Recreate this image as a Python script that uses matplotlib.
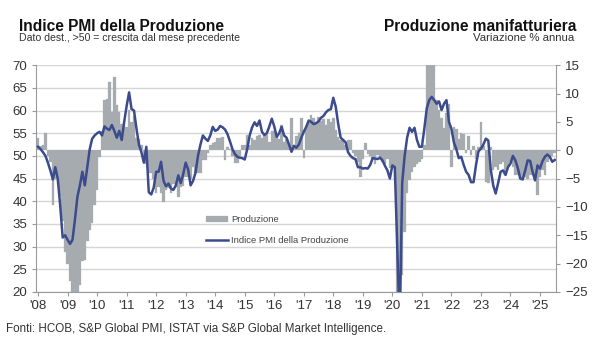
import numpy as np
import matplotlib.pyplot as plt

plt.rcParams['font.family'] = ['Liberation Sans', 'DejaVu Sans']

# Monthly data, Jan 2008 - Jul 2025
start_year = 2008
year_ticks = list(range(2008, 2026))
year_labels = ["'%02d" % (y % 100) for y in year_ticks]

# Indice PMI della Produzione (left axis)
pmi = [
    52.0, 51.5, 50.8, 50.0, 48.5, 46.8, 44.8, 47.5, 45.0, 39.0, 32.0, 32.5,  # 2008
    31.5, 30.6, 31.5, 36.0, 41.0, 43.5, 46.5, 43.5, 47.5, 51.5, 53.8, 54.5,  # 2009
    55.0, 55.3, 54.5, 56.5, 56.0, 55.7, 56.8, 55.5, 54.0, 55.5, 53.5, 57.5,  # 2010
    61.0, 64.0, 60.3, 60.0, 56.0, 52.5, 50.8, 48.5, 52.0, 42.0, 41.5, 43.0,  # 2011
    46.5, 46.5, 48.7, 44.5, 43.3, 43.9, 42.8, 42.5, 43.5, 45.7, 44.0, 46.0,  # 2012
    48.5, 47.0, 43.5, 44.5, 46.3, 50.0, 52.5, 54.5, 53.8, 53.3, 54.5, 56.4,  # 2013
    55.5, 55.8, 56.6, 56.3, 55.8, 54.8, 53.2, 51.5, 50.4, 49.8, 49.6, 49.5,  # 2014
    49.2, 51.5, 54.5, 56.3, 57.4, 56.6, 57.8, 55.3, 54.6, 55.0, 56.5, 58.2,  # 2015
    56.5, 54.2, 55.0, 56.4, 54.5, 54.0, 52.5, 50.9, 52.2, 51.8, 52.5, 54.0,  # 2016
    55.3, 56.4, 57.8, 57.5, 57.0, 57.2, 57.6, 58.4, 58.8, 59.6, 60.1, 60.3,  # 2017
    62.8, 60.8, 57.0, 54.0, 53.5, 53.0, 50.8, 50.0, 49.5, 49.3, 47.5, 47.5,  # 2018
    47.2, 47.3, 47.2, 48.0, 49.5, 49.4, 49.3, 49.6, 49.0, 47.8, 46.8, 45.0,  # 2019
    47.9, 47.5, 30.0, 12.0, 44.0, 50.0, 54.0, 56.2, 55.3, 56.2, 53.5, 52.0,  # 2020
    52.0, 56.0, 60.5, 62.3, 63.0, 62.3, 61.5, 62.0, 60.1, 61.5, 62.3, 57.5,  # 2021
    56.0, 53.0, 51.5, 49.5, 49.8, 48.0, 46.5, 45.8, 44.2, 44.2, 48.0, 51.0,  # 2022
    51.6, 52.5, 53.8, 53.4, 47.0, 43.5, 41.7, 44.0, 46.5, 46.8, 45.8, 47.5,  # 2023
    48.3, 50.0, 49.0, 47.3, 45.0, 44.8, 46.8, 49.0, 48.9, 46.5, 44.6, 47.9,  # 2024
    47.2, 48.8, 49.8, 50.3, 49.8, 48.7, 49.1,                                # 2025
]

# Produzione manifatturiera, variazione % annua (right axis)
produzione = [
    2.1, 0.8, 1.0, 3.1, -1.0, -2.0, -9.7, -5.0, -6.0, -8.0, -12.5, -18.0,       # 2008
    -20.0, -23.0, -26.0, -26.0, -25.5, -23.8, -19.5, -19.4, -16.1, -14.0, -12.9, -9.7,  # 2009
    -7.0, -1.2, 3.3, 8.8, 9.0, 12.0, 6.8, 13.0, 8.0, 6.8, 4.6, 5.0,             # 2010
    4.1, 7.1, 5.0, 6.0, 2.1, 2.0, 1.0, -1.5, -2.4, -4.1, -4.1, -5.0,            # 2011
    -7.6, -6.5, -7.6, -9.1, -7.0, -6.7, -7.5, -6.0, -6.5, -8.2, -6.5, -6.4,     # 2012
    -4.7, -4.7, -5.0, -3.0, -4.1, -4.1, -4.1, -1.7, -1.7, -0.5, 1.0, 1.2,       # 2013
    1.5, 2.1, 2.1, 2.4, -1.7, 0.5, 0.3, -1.0, -2.3, -2.3, -1.0, 0.9,            # 2014
    1.0, 2.7, 0.9, 2.1, 1.8, 2.5, 2.7, 2.1, 3.0, 2.7, 1.5, 3.3,                 # 2015
    3.3, 2.7, 2.0, 4.4, 1.5, 2.0, 1.0, 5.6, 1.0, 2.5, 3.0, 5.6,                 # 2016
    -1.4, 4.1, 4.9, 6.2, 5.6, 4.9, 5.8, 5.2, 5.5, 4.5, 5.5, 5.0,                # 2017
    5.6, 3.5, 2.4, 1.8, 2.0, 1.0, 1.8, 1.8, -0.5, -1.0, -2.0, -4.7,             # 2018
    -1.5, 1.2, -0.6, -1.0, -1.5, -2.4, -0.8, -1.5, -2.0, -2.4, -1.5, -3.2,      # 2019
    -3.2, -5.3, -29.0, -42.0, -22.0, -14.4, -7.6, -5.3, -3.8, -3.0, -2.4, -2.0, # 2020
    -1.5, 1.0, 38.0, 79.0, 21.0, 16.0, 8.8, 7.1, 5.6, 4.0, 6.5, 8.2,            # 2021
    -2.9, 4.1, 3.8, 2.0, 3.0, 2.9, -0.5, 2.5, -0.8, 0.8, -1.5, 0.5,             # 2022
    5.0, 0.8, -5.6, -5.8, 0.5, -3.5, -3.0, -3.5, -2.5, -2.0, -4.4, -3.0,        # 2023
    -2.0, -3.0, -4.4, -4.4, -5.0, -4.8, -4.8, -5.0, -4.4, -4.4, -5.3, -7.9,     # 2024
    -4.8, -3.5, -4.4, -2.0, -1.5, -1.0, -0.5,                                   # 2025
]

x = start_year + np.arange(len(pmi)) / 12.0

grey_txt = '#333333'
axis_col = '#9a9a9a'
bar_col = '#a6abb0'
line_col = '#3b4b8c'

fig = plt.figure(figsize=(6, 3.6), dpi=100)
ax1 = fig.add_axes([0.06, 0.189, 0.867, 0.630])
ax2 = ax1.twinx()

# left axis: PMI, with the gridlines
ax1.set_ylim(20, 70)
ax1.set_yticks(range(20, 71, 5))
ax1.yaxis.grid(True, color='#d6d6d6', linewidth=1.0)
ax1.set_axisbelow(True)

# right axis: production bars, and the PMI line drawn on top using ax1's scale
ax2.set_ylim(-25, 15)
ax2.set_yticks(range(-25, 16, 5))
bars = ax2.bar(x, produzione, width=1 / 12, color=bar_col, edgecolor=bar_col,
               linewidth=0.2, label='Produzione', zorder=1)
line, = ax2.plot(x, pmi, color=line_col, linewidth=1.8, transform=ax1.transData,
                 label='Indice PMI della Produzione', zorder=3)

ax1.set_xlim(2007.93, 2025.55)
ax1.set_xticks(year_ticks)
ax1.set_xticklabels(year_labels)

for ax in (ax1, ax2):
    ax.tick_params(colors=axis_col, labelcolor=grey_txt, labelsize=9.5,
                   length=3, width=0.8, direction='out')
    ax.spines['top'].set_visible(False)
ax1.spines['right'].set_visible(False)
ax2.spines['left'].set_visible(False)
ax2.spines['bottom'].set_visible(False)
ax1.spines['left'].set_color(axis_col)
ax1.spines['bottom'].set_color(axis_col)
ax2.spines['right'].set_color(axis_col)
ax1.tick_params(axis='x', pad=3)

ax2.set_ylim(-25, 15)
ax2.set_xlim(2007.93, 2025.55)

ax2.legend([bars, line], ['Produzione', 'Indice PMI della Produzione'],
           loc='upper left', bbox_to_anchor=(0.31, 0.375), frameon=False,
           fontsize=6.8, handlelength=2.4, handleheight=0.6,
           labelspacing=1.2, handletextpad=0.3, labelcolor='#444444')

# titles
fig.text(19 / 600, 1 - 31 / 360, 'Indice PMI della Produzione',
         fontsize=11.2, fontweight='bold', color='#111111', va='baseline')
fig.text(19 / 600, 1 - 41 / 360, 'Dato dest., >50 = crescita dal mese precedente',
         fontsize=7.6, color=grey_txt, va='baseline')
fig.text(576 / 600, 1 - 31 / 360, 'Produzione manifatturiera',
         fontsize=11.2, fontweight='bold', color='#111111', ha='right', va='baseline')
fig.text(574 / 600, 1 - 41 / 360, 'Variazione % annua',
         fontsize=8.2, color=grey_txt, ha='right', va='baseline')
fig.text(6 / 600, 1 - 329 / 360,
         'Fonti: HCOB, S&P Global PMI, ISTAT via S&P Global Market Intelligence.',
         fontsize=8.4, color=grey_txt, va='center')

fig.savefig('out.png', dpi=100)
